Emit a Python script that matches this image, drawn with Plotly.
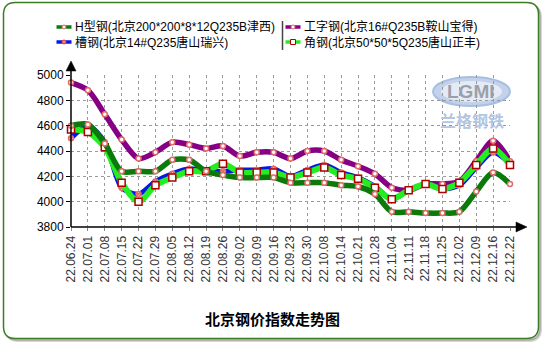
import plotly.graph_objects as go

# ---- data ----
dates = ["22.06.24", "22.07.01", "22.07.08", "22.07.15", "22.07.22", "22.07.29",
         "22.08.05", "22.08.12", "22.08.19", "22.08.26", "22.09.02", "22.09.09",
         "22.09.16", "22.09.23", "22.09.30", "22.10.08", "22.10.14", "22.10.21",
         "22.10.28", "22.11.04", "22.11.11", "22.11.18", "22.11.25", "22.12.02",
         "22.12.09", "22.12.16", "22.12.22"]

h_beam = [4600, 4610, 4460, 4240, 4240, 4240, 4330, 4330, 4240, 4210, 4190, 4190,
          4190, 4150, 4150, 4150, 4130, 4120, 4060, 3920, 3920, 3910, 3910, 3920,
          4080, 4230, 4140]
i_beam = [4940, 4880, 4690, 4490, 4340, 4390, 4470, 4450, 4420, 4440, 4360, 4390,
          4390, 4340, 4400, 4400, 4330, 4280, 4220, 4110, 4090, 4140, 4140, 4160,
          4320, 4480, 4320]
channel = [4500, 4600, 4470, 4110, 4060, 4160, 4220, 4260, 4240, 4240, 4250, 4250,
           4260, 4200, 4250, 4290, 4230, 4190, 4120, 4020, 4090, 4140, 4100, 4130,
           4270, 4390, 4300]
angle = [4570, 4550, 4430, 4150, 4000, 4130, 4190, 4240, 4240, 4300, 4230, 4230,
         4230, 4190, 4230, 4270, 4210, 4180, 4110, 4020, 4090, 4140, 4100, 4150,
         4290, 4420, 4290]

y_ticks = [3800, 4000, 4200, 4400, 4600, 4800, 5000]

names = ["H型钢(北京200*200*8*12Q235B津西)", "工字钢(北京16#Q235B鞍山宝得)",
         "槽钢(北京14#Q235唐山瑞兴)", "角钢(北京50*50*5Q235唐山正丰)"]

C_H = "#0b7a0b"
C_I = "#850085"
C_C = "#0a14e6"
C_A = "#22ee22"
PINK = "#e36a6a"
DARKRED = "#b00000"

W, H = 543, 344
ML, MR, MT, MB = 71, 33, 75, 117
PW, PH = W - ML - MR, H - MT - MB


def px(x):
    return (x - ML) / PW


def py(y):
    return (H - MB - y) / PH


FONT = "Arial, 'Liberation Sans', 'Noto Sans CJK SC', sans-serif"

xs = list(range(len(dates)))
fig = go.Figure()


def add_series(vals, color, width, symbol, msize, mline):
    fig.add_trace(go.Scatter(
        x=xs, y=vals, mode="lines+markers",
        line=dict(color=color, width=width, shape="spline", smoothing=0.8),
        marker=dict(symbol=symbol, size=msize, color="white",
                    line=dict(color=mline, width=1.5)),
        cliponaxis=False, showlegend=False, hoverinfo="skip"))


add_series(i_beam, C_I, 5.5, "circle", 5, PINK)
add_series(channel, C_C, 5, "circle-x", 5, PINK)
add_series(angle, C_A, 6, "square", 7, DARKRED)
add_series(h_beam, C_H, 5.5, "circle", 5, PINK)

shapes = []


def rounded_path(x0, y0, x1, y1, r):
    pts = [
        ("M", px(x0 + r), py(y0)),
        ("L", px(x1 - r), py(y0)),
        ("Q", px(x1), py(y0), px(x1), py(y0 + r)),
        ("L", px(x1), py(y1 - r)),
        ("Q", px(x1), py(y1), px(x1 - r), py(y1)),
        ("L", px(x0 + r), py(y1)),
        ("Q", px(x0), py(y1), px(x0), py(y1 - r)),
        ("L", px(x0), py(y0 + r)),
        ("Q", px(x0), py(y0), px(x0 + r), py(y0)),
    ]
    s = ""
    for p in pts:
        s += p[0] + " " + " ".join(f"{v:.5f}" for v in p[1:]) + " "
    return s + "Z"


# frame shadow and rounded border
shapes.append(dict(type="path", xref="paper", yref="paper", layer="below",
                   path=rounded_path(6.5, 5.5, 541, 341, 12),
                   line=dict(color="#d6d6d6", width=2)))
shapes.append(dict(type="path", xref="paper", yref="paper", layer="below",
                   path=rounded_path(5, 4, 540, 340, 12),
                   line=dict(color="#a8a8a8", width=1.5)))
shapes.append(dict(type="path", xref="paper", yref="paper", layer="below",
                   path=rounded_path(3.5, 2.5, 538.5, 338.5, 12),
                   fillcolor="white", line=dict(color="#3b7d23", width=1.5)))

# axis lines with arrow heads
shapes.append(dict(type="line", xref="paper", yref="paper",
                   x0=px(71), x1=px(517), y0=py(227), y1=py(227),
                   line=dict(color="black", width=1.5)))
shapes.append(dict(type="line", xref="paper", yref="paper",
                   x0=px(71), x1=px(71), y0=py(227), y1=py(70),
                   line=dict(color="black", width=1.5)))
shapes.append(dict(type="path", xref="paper", yref="paper",
                   path=f"M {px(71)} {py(61)} L {px(66)} {py(71)} L {px(76)} {py(71)} Z",
                   fillcolor="black", line=dict(color="black", width=0.5)))
shapes.append(dict(type="path", xref="paper", yref="paper",
                   path=f"M {px(527)} {py(227)} L {px(516)} {py(222)} L {px(516)} {py(232)} Z",
                   fillcolor="black", line=dict(color="black", width=0.5)))

# watermark logo
shapes.append(dict(type="circle", xref="paper", yref="paper", layer="below",
                   x0=px(433), x1=px(510), y0=py(77), y1=py(106),
                   fillcolor="#c3d2ea", line=dict(color="#a9bfe0", width=2)))
shapes.append(dict(type="circle", xref="paper", yref="paper", layer="below",
                   x0=px(441), x1=px(502), y0=py(81), y1=py(102),
                   fillcolor="#e4ebf6", line=dict(width=0)))

annotations = [
    dict(x=px(471), y=py(91), xref="paper", yref="paper", text="<b>LGMI</b>",
         showarrow=False, font=dict(family=FONT, size=19, color="#9aa0aa"),
         xanchor="center", yanchor="middle"),
    dict(x=px(472), y=py(120), xref="paper", yref="paper", text="<b>兰格钢铁</b>",
         showarrow=False, font=dict(family="'Noto Sans CJK SC', sans-serif", size=16,
                                     color="#b3c5e0"),
         xanchor="center", yanchor="middle"),
    dict(x=px(272.5), y=py(318), xref="paper", yref="paper",
         text="<b>北京钢价指数走势图</b>", showarrow=False,
         font=dict(family="'Noto Sans CJK SC', sans-serif", size=15, color="black"),
         xanchor="center", yanchor="middle"),
]

# legend (two columns with a separator)
legend_items = [
    (names[0], C_H, "circle", 56.5, 27),
    (names[2], C_C, "x", 56.5, 42),
    (names[1], C_I, "circle", 285.5, 27),
    (names[3], C_A, "square", 285.5, 42),
]
for text, color, mk, lx, ly in legend_items:
    shapes.append(dict(type="line", xref="paper", yref="paper",
                       x0=px(lx), x1=px(lx + 15), y0=py(ly), y1=py(ly),
                       line=dict(color=color, width=3.5)))
    cx = lx + 7.5
    if mk == "square":
        shapes.append(dict(type="rect", xref="paper", yref="paper",
                           x0=px(cx - 2.5), x1=px(cx + 2.5), y0=py(ly - 2.5), y1=py(ly + 2.5),
                           fillcolor="white", line=dict(color=DARKRED, width=1)))
    elif mk == "circle":
        shapes.append(dict(type="circle", xref="paper", yref="paper",
                           x0=px(cx - 2), x1=px(cx + 2), y0=py(ly - 2), y1=py(ly + 2),
                           fillcolor="white", line=dict(color=PINK, width=1)))
    else:
        shapes.append(dict(type="circle", xref="paper", yref="paper",
                           x0=px(cx - 2), x1=px(cx + 2), y0=py(ly - 2), y1=py(ly + 2),
                           fillcolor="#f08080", line=dict(color="#e04848", width=1)))
    annotations.append(dict(x=px(lx + 16), y=py(ly), xref="paper", yref="paper",
                            text=text, showarrow=False, xanchor="left", yanchor="middle",
                            font=dict(family=FONT, size=12, color="black")))

shapes.append(dict(type="line", xref="paper", yref="paper",
                   x0=px(282.5), x1=px(282.5), y0=py(21), y1=py(50),
                   line=dict(color="#444", width=1.5)))

fig.update_layout(
    width=W, height=H,
    margin=dict(l=ML, r=MR, t=MT, b=MB, pad=0),
    paper_bgcolor="white", plot_bgcolor="rgba(0,0,0,0)",
    shapes=shapes, annotations=annotations,
    showlegend=False,
    font=dict(family=FONT, size=12, color="black"),
)
fig.update_xaxes(
    range=[0, len(dates) - 1], tickmode="array", tickvals=xs, ticktext=dates,
    tickangle=-90, showgrid=True, gridcolor="#9a9a9a", griddash="dot", gridwidth=1,
    zeroline=False, showline=False, ticks="outside", ticklen=3, tickcolor="#888",
    tickfont=dict(family=FONT, size=12, color="#333"), fixedrange=True,
)
fig.update_yaxes(
    range=[3800, 5000], tickmode="array", tickvals=y_ticks,
    showgrid=True, gridcolor="#9a9a9a", griddash="dot", gridwidth=1,
    zeroline=False, showline=False, ticks="outside", ticklen=4, tickcolor="black",
    tickfont=dict(family=FONT, size=12, color="black"), fixedrange=True,
)

fig.write_html("out.html", config={"displayModeBar": False})
